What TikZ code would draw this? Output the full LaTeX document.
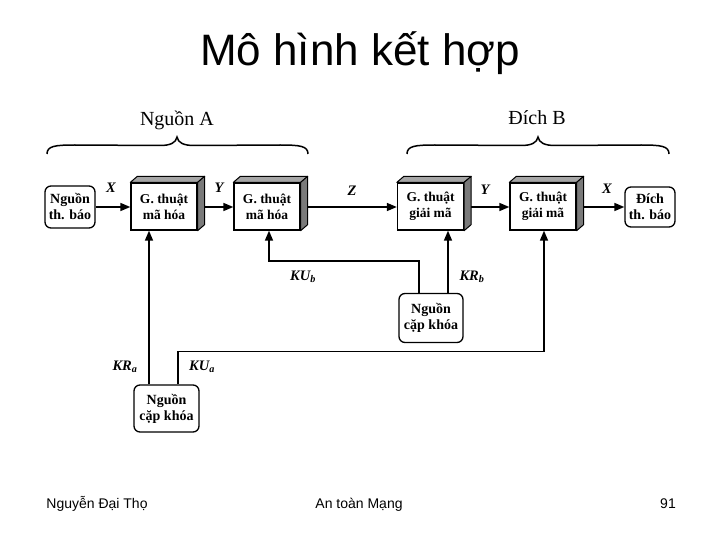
\documentclass[tikz,border=0pt]{standalone}
\usepackage{fontspec}
\setmainfont{Liberation Serif}
\newfontfamily\arialf{Liberation Sans}
\usetikzlibrary{arrows.meta,calc}
\newcommand\boxfaces[1]{%
  \filldraw[fill=black!35, line width=1pt, line join=round] (#1.north west) -- ++(7,-6) -- ($(#1.north east)+(7,-6)$) -- (#1.north east) -- cycle;
  \filldraw[fill=black!52, line width=1pt, line join=round] (#1.north east) -- ++(7,-6) -- ($(#1.south east)+(7,-6)$) -- (#1.south east) -- cycle;
}
\newcommand\curlybrace[3]{% left x, tip x, right x
  \draw[line width=1.5pt] (#1,154) .. controls (#1,146) and ({#1+8},145) .. ({#1+28},145)
    -- ({#2-17},145.5) .. controls ({#2-7},145.5) and ({#2-1},143) .. (#2,137)
    .. controls ({#2+1},143) and ({#2+7},145.5) .. ({#2+17},145.5)
    -- ({#3-28},145) .. controls ({#3-8},145) and (#3,146) .. (#3,154);
}
\begin{document}
\begin{tikzpicture}[x=1pt,y=-1pt,
  conn/.style={line width=1.6pt, -{Triangle[length=10pt,width=8pt]}},
  front/.style={draw, line width=1.3pt, fill=white, minimum width=66pt, minimum height=47pt, inner sep=0pt, align=center, font=\fontsize{13.5}{16}\selectfont\bfseries},
  rbox/.style={draw, rounded corners=6pt, line width=1.3pt, fill=white, inner sep=0pt, align=center, font=\fontsize{14}{16}\selectfont\bfseries},
  lab/.style={font=\fontsize{14.5}{16}\selectfont\bfseries\itshape, inner sep=0pt},
  head/.style={font=\fontsize{20}{24}\selectfont, inner sep=0pt},
  foot/.style={font=\arialf\fontsize{14}{16}\selectfont, inner sep=0pt, anchor=base}
]
\useasboundingbox (0,0) rectangle (720,540);

% title
\node[font=\arialf\fontsize{44}{48}\selectfont, anchor=base, inner sep=0pt] (title) at (360,66) {Mô hình kết hợp};

% headings and braces
\node[head] (ha) at (177,120) {Nguồn A};
\node[head] (hb) at (537,118) {Đích B};
\curlybrace{47}{177}{308}
\curlybrace{407}{538}{669}

% nodes
\node[rbox, minimum width=50pt, minimum height=42pt] (src) at (70,207) {Nguồn\\th. báo};
\node[front] (b1) at (164,206.5) {G. thuật\\mã hóa};
\node[front] (b2) at (267,206.5) {G. thuật\\mã hóa};
\node[front] (b3) at (430.5,206.5) {G. thuật\\giải mã};
\node[front] (b4) at (543,206.5) {G. thuật\\giải mã};
\node[rbox, minimum width=50pt, minimum height=40pt] (dst) at (650,207) {Đích\\th. báo};
\node[rbox, minimum width=65pt, minimum height=47pt] (ka) at (166.5,408.5) {Nguồn\\cặp khóa};
\node[rbox, minimum width=64pt, minimum height=49pt] (kb) at (431,318) {Nguồn\\cặp khóa};

% horizontal connectors
\draw[conn] (src.east |- 0,207) -- (b1.west |- 0,207);
\draw[conn] (b1.east |- 0,207) -- (b2.west |- 0,207);
\draw[conn] (b2.east |- 0,207) -- (b3.west |- 0,207);
\draw[conn] (b3.east |- 0,207) -- (b4.west |- 0,207);
\draw[conn] (b4.east |- 0,207) -- (dst.west |- 0,207);

% key connectors
\draw[conn] ([xshift=-17.5pt]ka.north) -- ([xshift=-17.5pt]ka.north |- b1.south);
\draw[conn] ([xshift=11.5pt]ka.north) -- ++(0,-33) -| ([xshift=1pt]b4.south);
\draw[conn] ([xshift=-12pt]kb.north) -- ++(0,-32) -| ([xshift=2pt]b2.south);
\draw[conn] ([xshift=17pt]kb.north) -- ([xshift=17pt]kb.north |- b3.south);

% 3D faces
\boxfaces{b1}
\boxfaces{b2}
\boxfaces{b3}
\boxfaces{b4}

% labels
\node[lab] (lx1) at (111,188) {X};
\node[lab] (ly1) at (219,188) {Y};
\node[lab] (lz) at (352,191) {Z};
\node[lab] (ly2) at (485,190) {Y};
\node[lab] (lx2) at (607,189) {X};
\node[lab] (lkub) at (303,277) {KU\textsubscript{b}};
\node[lab] (lkrb) at (472,277) {KR\textsubscript{b}};
\node[lab] (lkra) at (125,367) {KR\textsubscript{a}};
\node[lab] (lkua) at (202,367) {KU\textsubscript{a}};

% footer
\node[foot] (f1) at (97,508) {Nguyễn Đại Thọ};
\node[foot] (f2) at (359,508) {An toàn Mạng};
\node[foot] (f3) at (668,508) {91};
\end{tikzpicture}
\end{document}
